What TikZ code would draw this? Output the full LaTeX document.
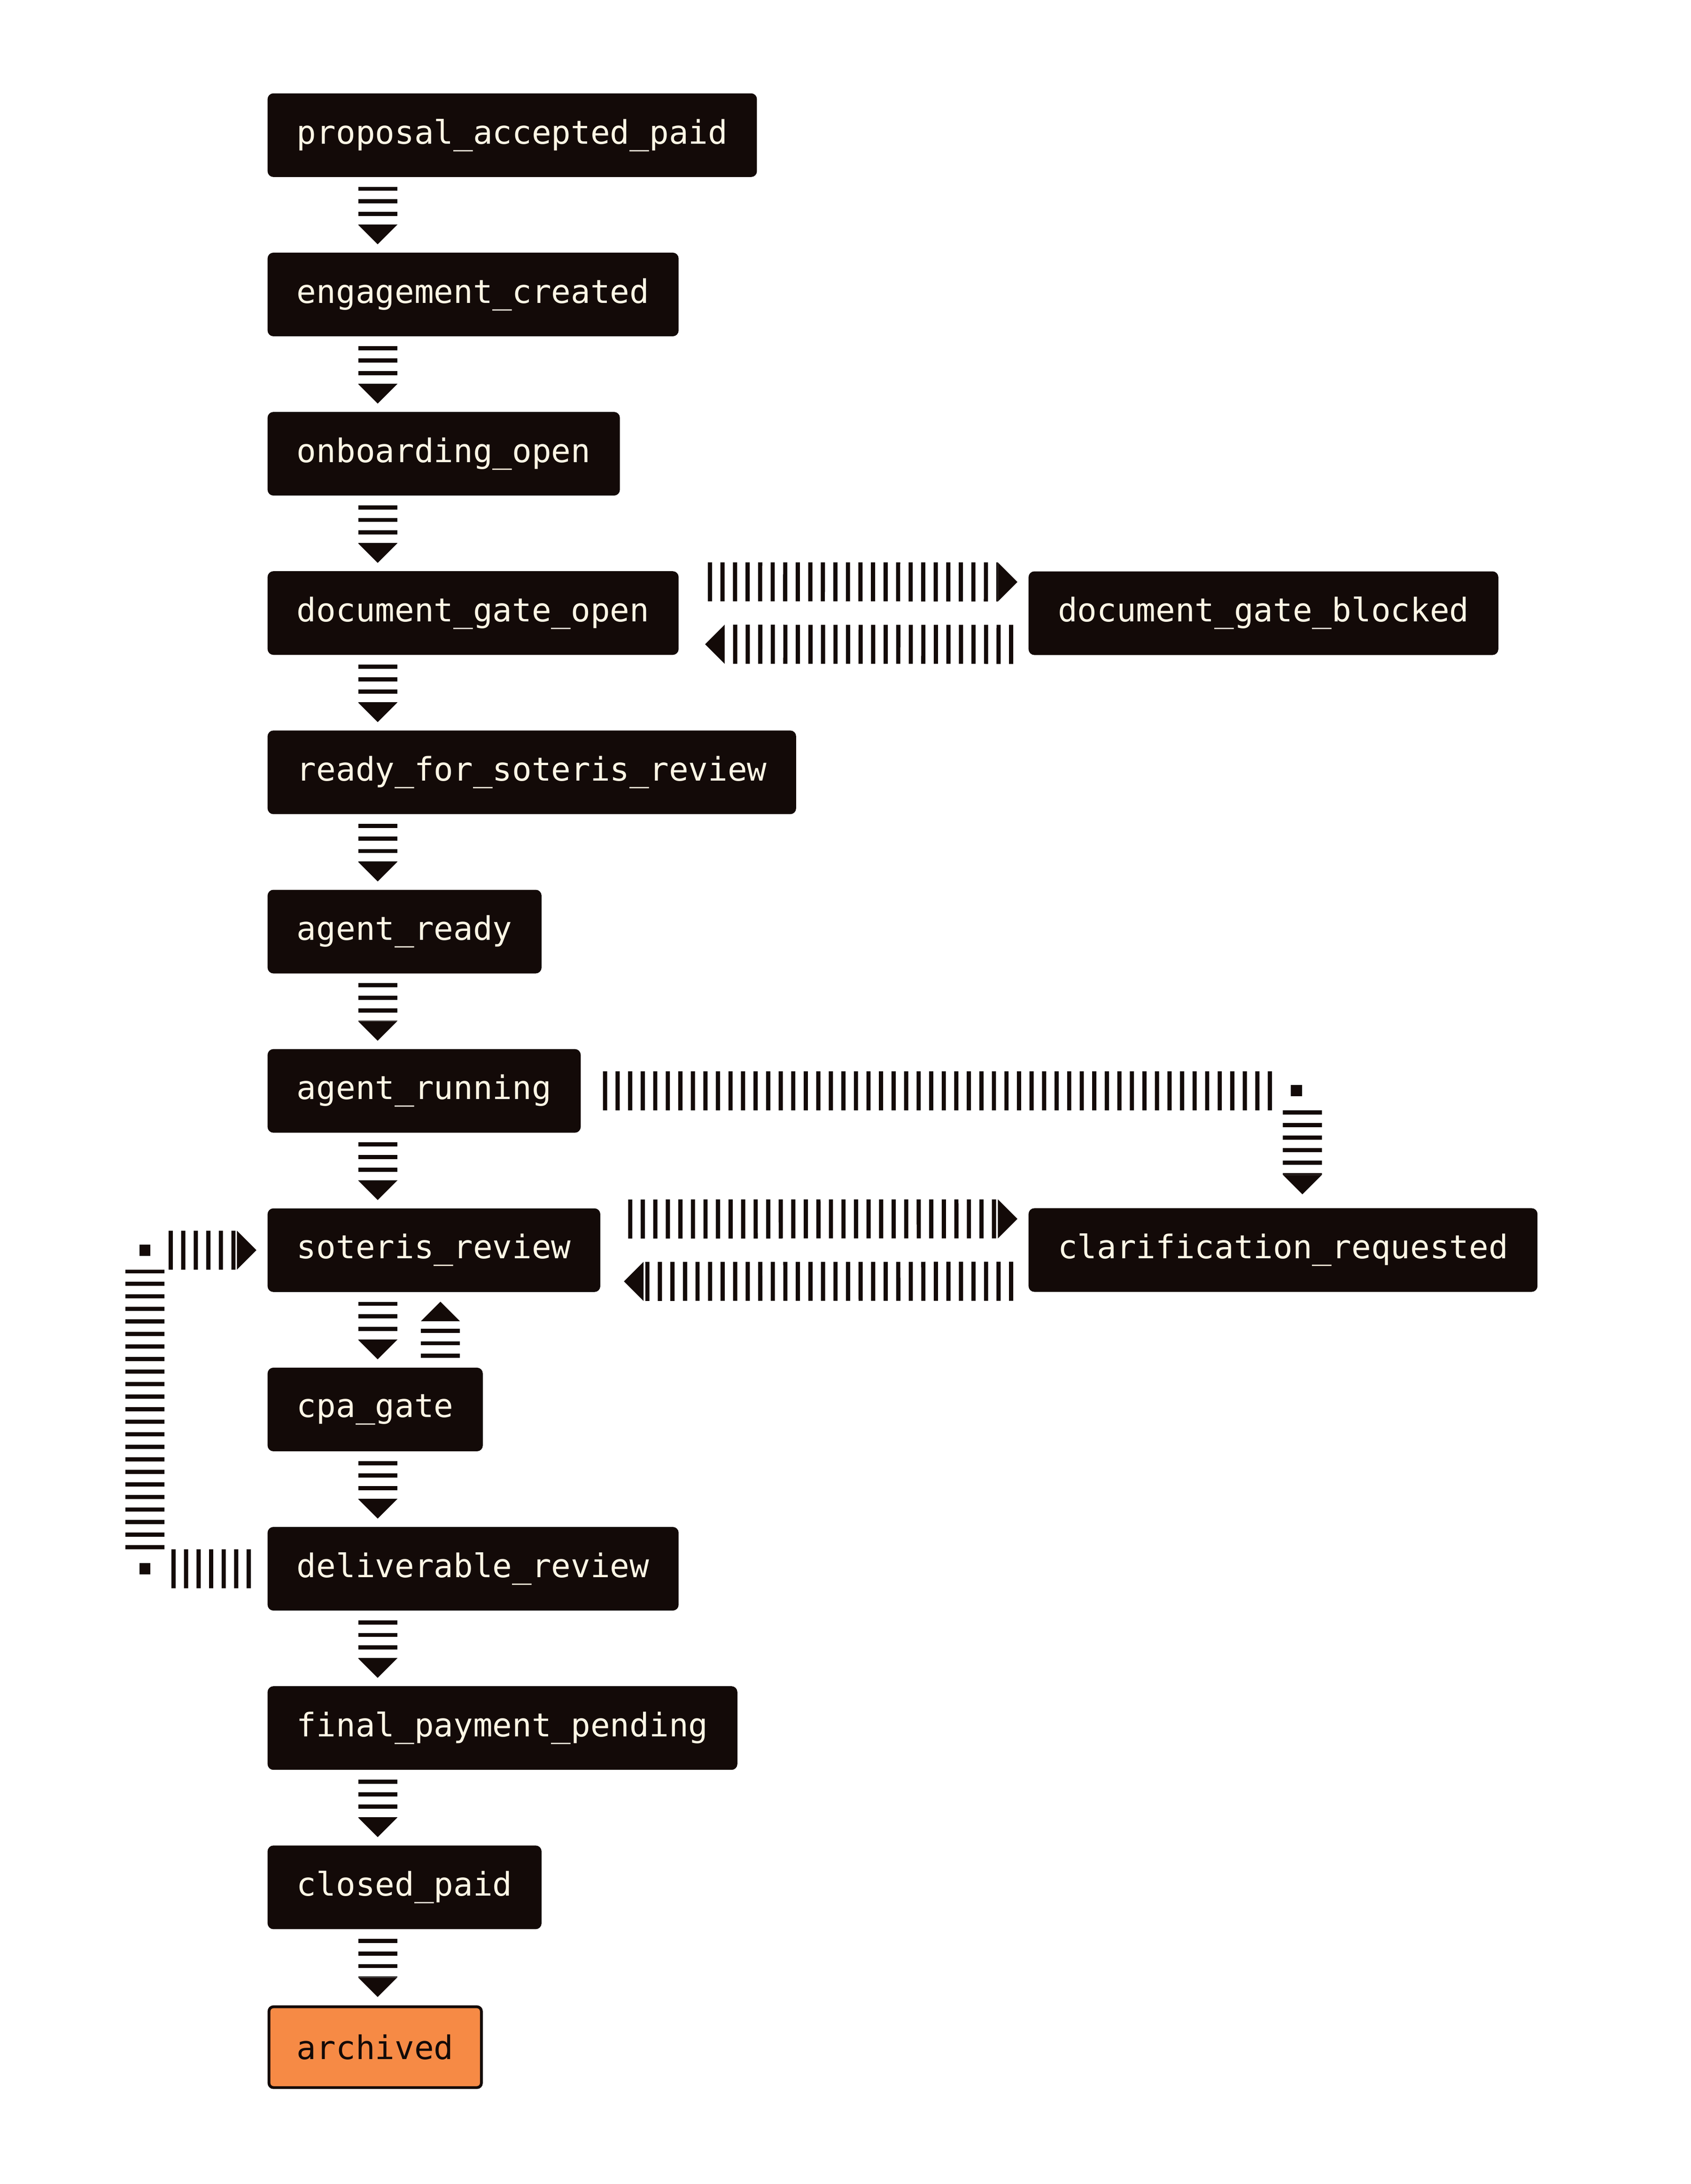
\documentclass[tikz,border=0pt]{standalone}
\usepackage{fontspec}
\usetikzlibrary{arrows.meta}
\newfontfamily\statefont{DejaVu Sans Mono}
\definecolor{ink}{HTML}{130A08}
\definecolor{cream}{HTML}{FFF6E5}
\definecolor{done}{HTML}{F68A45}
\begin{document}
\begin{tikzpicture}[x=0.25mm, y=-0.25mm,
    font=\statefont\fontsize{16.6}{20}\selectfont,
    state/.style={draw=ink, fill=ink, text=cream, line width=0.5mm,
      rounded corners=0.8mm, anchor=north west, inner xsep=5mm,
      inner ysep=0pt, minimum height=14.5mm, outer sep=0pt},
    final/.style={state, fill=done, text=ink},
    flow/.style={draw=ink, line width=7mm, dash pattern=on 0.75mm off 1.5mm,
      -{Triangle[length=3.5mm, width=7mm, line width=0pt]}}]
  \useasboundingbox (0,0) rectangle (1213.3,1567.2);

  %% main column
  \foreach \nm/\txt [count=\i from 0] in {paid/proposal\_accepted\_paid,
      created/engagement\_created, onboarding/onboarding\_open,
      docopen/document\_gate\_open, ready/ready\_for\_soteris\_review,
      agentready/agent\_ready, running/agent\_running,
      soteris/soteris\_review, cpa/cpa\_gate,
      deliverable/deliverable\_review, finalpay/final\_payment\_pending,
      closed/closed\_paid} {
    \node[state] (\nm) at (193, 68+114.3*\i) {\txt}; }
  \node[final] (archived) at (193, 1440) {archived};

  %% side states
  \node[state] (blocked) at (739, 411) {document\_gate\_blocked};
  \node[state] (clarify) at (739, 868) {clarification\_requested};

  \coordinate (spine) at (271,0);
  \coordinate (backspine) at (316,0);
  \coordinate (bendin) at (918,782.8);
  \coordinate (bendout) at (934.5,796.8);
  \coordinate (loopbotin) at (118,1125.7);
  \coordinate (loopbotup) at (104,1111.7);
  \coordinate (looptopdown) at (104,911.1);
  \coordinate (looptopout) at (121,897.1);

  %% straight chain
  \foreach \a/\b in {paid/created, created/onboarding, onboarding/docopen,
      docopen/ready, ready/agentready, agentready/running, running/soteris,
      soteris/cpa, cpa/deliverable, deliverable/finalpay, finalpay/closed,
      closed/archived} {
    \draw[flow, shorten <=2mm, shorten >=1.75mm]
      (\a.south -| spine) -- (\b.north -| spine); }

  \draw[flow, shorten <=2mm, shorten >=2mm]
    (cpa.north -| backspine) -- (soteris.south -| backspine);

  %% document gate
  \draw[flow, shorten <=5.5mm, shorten >=2.25mm]
    ([yshift=5.6mm]docopen.east) -- ([yshift=5.6mm]blocked.west);
  \draw[flow, shorten <=3mm, shorten >=5mm]
    ([yshift=-5.6mm]blocked.west) -- ([yshift=-5.6mm]docopen.east);

  %% clarification
  \draw[flow, shorten <=5.25mm, shorten >=2.25mm]
    ([yshift=5.6mm]soteris.east) -- ([yshift=5.6mm]clarify.west);
  \draw[flow, shorten <=3mm, shorten >=4.5mm]
    ([yshift=-5.6mm]clarify.west) -- ([yshift=-5.6mm]soteris.east);
  \draw[flow, shorten >=2.75mm]
    ([xshift=4.25mm]running.east) -- (bendin)
    (bendout) -- (bendout |- clarify.north);
  \fill[ink] (926.3,778.6) rectangle ++(8,8);

  %% back to review
  \draw[flow, shorten >=2.25mm]
    ([xshift=-3.25mm]deliverable.west) -- (loopbotin)
    (loopbotup) -- (looptopdown)
    (looptopout) -- (soteris.west);
  \fill[ink] (100,1121.7) rectangle ++(8,8);
  \fill[ink] (100,893.1) rectangle ++(8,8);
\end{tikzpicture}
\end{document}
